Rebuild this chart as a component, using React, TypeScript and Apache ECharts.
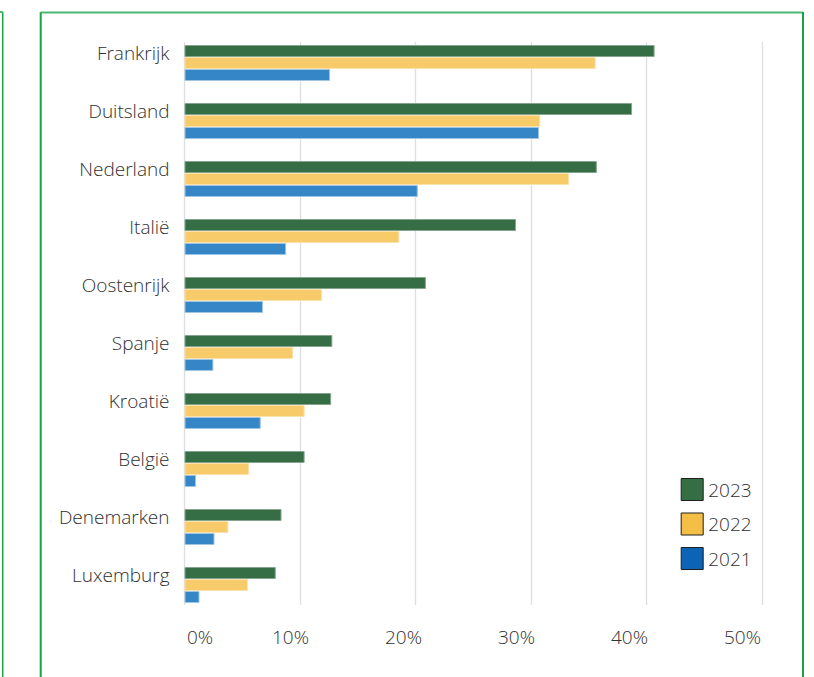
import React, { useEffect, useRef } from "react";
import * as echarts from "echarts";

const categories = ["Frankrijk", "Duitsland", "Nederland", "Italië", "Oostenrijk", "Spanje", "Kroatië", "België", "Denemarken", "Luxemburg"];
const values2023 = [40.7, 38.75, 35.7, 28.7, 20.9, 12.8, 12.7, 10.4, 8.4, 7.9];
const values2022 = [35.6, 30.8, 33.3, 18.6, 11.9, 9.4, 10.4, 5.6, 3.8, 5.5];
const values2021 = [12.6, 30.7, 20.2, 8.8, 6.8, 2.5, 6.6, 1.0, 2.6, 1.3];
const seriesNames = ["2023", "2022", "2021"];
const xMin = 0;
const xMax = 50;
const xInterval = 10;

const FONT = "'Open Sans', 'Noto Sans', sans-serif";
const TEXT = "#303030";
const FS = 19;
const FW = 300;

export default function App() {
  const ref = useRef<HTMLDivElement>(null);
  useEffect(() => {
    if (!ref.current) return;
    const chart = echarts.init(ref.current, null, { renderer: "svg" });
    const barColors = ["#356e45", "#f7ca6a", "#3586c7"];
    const barBorders = ["#86a58f", "#fbe1ab", "#9fc5e5"];
    const legendColors = ["#356e45", "#f5bf47", "#0b65b4"];
    const data = [values2023, values2022, values2021];
    const option: any = {
      animation: false,
      backgroundColor: "#ffffff",
      textStyle: { fontFamily: FONT },
      grid: [
        { left: 184.5, top: 34, width: 577.5, height: 580 },
        { left: 184.5, top: 42, width: 577.5, height: 563 },
        { left: 177.5, top: 605, width: 565, height: 1 },
      ],
      xAxis: [
        { type: "value", gridIndex: 0, min: xMin, max: xMax, interval: xInterval, show: false, splitLine: { show: false } },
        {
          type: "value", gridIndex: 1, min: xMin, max: xMax, interval: xInterval,
          axisLabel: { show: false }, axisLine: { show: false }, axisTick: { show: false },
          splitLine: { show: true, lineStyle: { color: "#dedede", width: 1.3 } },
        },
        {
          type: "value", gridIndex: 2, min: xMin, max: xMax, interval: xInterval,
          axisLine: { show: false }, axisTick: { show: false }, splitLine: { show: false },
          axisLabel: {
            show: true, showMinLabel: true, showMaxLabel: true, margin: 21,
            fontSize: FS, fontWeight: FW, color: TEXT, fontFamily: FONT,
            formatter: (v: number) => (v === 0 ? "{z|" + v + "%}" : v + "%"),
            rich: { z: { padding: [0, 0, 0, 45], fontSize: FS, fontWeight: FW, color: TEXT, fontFamily: FONT } },
          },
        },
      ],
      yAxis: [
        {
          type: "category", gridIndex: 0, data: categories, inverse: true,
          axisLine: { show: false }, axisTick: { show: false }, splitLine: { show: false },
          axisLabel: { margin: 15, fontSize: FS, fontWeight: FW, color: TEXT, fontFamily: FONT, verticalAlign: "bottom", lineHeight: 20 },
        },
        { type: "value", gridIndex: 1, show: false },
        { type: "value", gridIndex: 2, show: false },
      ],
      legend: {
        orient: "vertical", left: 680.7, top: 478, itemWidth: 22, itemHeight: 22, itemGap: 11.5,
        padding: 0, icon: "rect", selectedMode: false,
        textStyle: { fontSize: FS, fontWeight: FW, color: TEXT, fontFamily: FONT },
        itemStyle: { borderColor: "#1f1f1f", borderWidth: 1 },
        data: seriesNames.map((n, i) => ({ name: n, itemStyle: { color: legendColors[i], borderColor: "#1f1f1f", borderWidth: 1 } })),
      },
      series: seriesNames.map((n, i) => ({
        type: "bar", name: n, xAxisIndex: 0, yAxisIndex: 0, data: data[i],
        barWidth: 12, barGap: "0%",
        itemStyle: { color: barColors[i], borderColor: barBorders[i], borderWidth: 1 },
      })),
      graphic: [
        { type: "line", shape: { x1: 2.7, y1: 12, x2: 2.7, y2: 677 }, style: { stroke: "#1aa346", lineWidth: 1.5 } },
        { type: "line", shape: { x1: 0, y1: 12, x2: 2.7, y2: 12 }, style: { stroke: "#4db870", lineWidth: 2 } },
        { type: "line", shape: { x1: 40.7, y1: 12, x2: 40.7, y2: 677 }, style: { stroke: "#1aa346", lineWidth: 2 } },
        { type: "line", shape: { x1: 40.7, y1: 12.5, x2: 803, y2: 12.5 }, style: { stroke: "#4db870", lineWidth: 2 } },
        { type: "line", shape: { x1: 803, y1: 12, x2: 803, y2: 677 }, style: { stroke: "#1aa346", lineWidth: 2 } },
      ],
    };
    chart.setOption(option);
    return () => chart.dispose();
  }, []);
  return <div ref={ref} style={{ position: "fixed", left: 0, top: 0, width: 814, height: 677 }} />;
}
